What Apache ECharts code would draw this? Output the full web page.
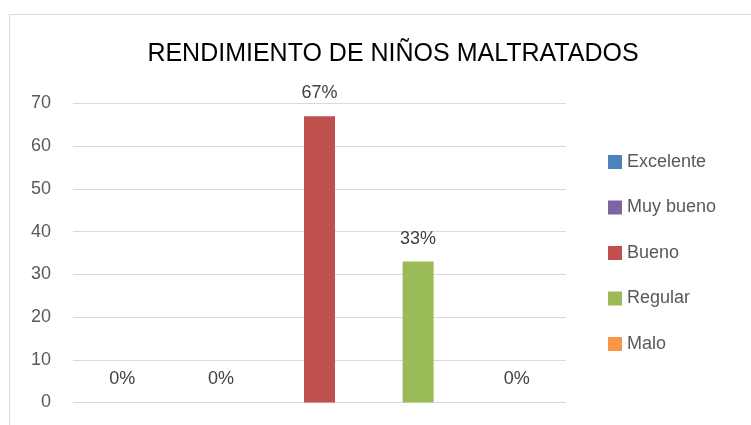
<!DOCTYPE html>
<html>
<head>
<meta charset="utf-8">
<script src="https://cdn.jsdelivr.net/npm/echarts@6/dist/echarts.min.js"></script>
<style>
  html, body { margin: 0; padding: 0; background: #fff; }
  #chart { width: 751px; height: 425px; }
</style>
</head>
<body>
<div id="chart"></div>
<script>
  var titleText = "RENDIMIENTO DE NIÑOS MALTRATADOS";
  var categories = ["Excelente", "Muy bueno", "Bueno", "Regular", "Malo"];
  var values = [0, 0, 67, 33, 0];
  var colors = ["#4F81BD", "#8064A2", "#C0504D", "#9BBB59", "#F79646"];
  var yTicks = { min: 0, max: 70, interval: 10 };

  var font = "'Liberation Sans', sans-serif";

  // one series per category so the legend lists each colour
  var series = categories.map(function (name, i) {
    return {
      name: name,
      type: "bar",
      stack: "all",
      barWidth: 31,
      itemStyle: { color: colors[i] },
      label: {
        show: true,
        position: "top",
        distance: 14,
        formatter: "{c}%",
        color: "#404040",
        fontSize: 18,
        fontFamily: font
      },
      data: categories.map(function (c, j) { return j === i ? values[i] : "-"; })
    };
  });

  var myChart = echarts.init(document.getElementById("chart"));
  var option = {
    animation: false,
    title: {
      text: titleText,
      left: 388,
      top: 37,
      textAlign: "center",
      textStyle: { fontSize: 25, fontWeight: "normal", color: "#000", fontFamily: font }
    },
    graphic: [{
      type: "rect",
      shape: { x: 9.5, y: 14.5, width: 800, height: 500 },
      style: { fill: null, stroke: "#d9d9d9", lineWidth: 1 },
      silent: true
    }],
    legend: {
      orient: "vertical",
      left: 603,
      top: 148,
      itemWidth: 14,
      itemHeight: 14,
      itemGap: 27.5,
      icon: "rect",
      textStyle: { fontSize: 18, color: "#595959", fontFamily: font },
      data: categories
    },
    grid: { left: 73, right: 185, top: 103.5, bottom: 22.5, containLabel: false },
    xAxis: {
      type: "category",
      data: categories,
      axisLine: { show: false },
      axisTick: { show: false },
      axisLabel: { show: false }
    },
    yAxis: {
      type: "value",
      min: yTicks.min,
      max: yTicks.max,
      interval: yTicks.interval,
      axisLine: { show: false },
      axisTick: { show: false },
      axisLabel: { color: "#595959", fontSize: 18, margin: 22, fontFamily: font },
      splitLine: { lineStyle: { color: "#d9d9d9", width: 1 } }
    },
    series: series
  };
  myChart.setOption(option);
</script>
</body>
</html>
